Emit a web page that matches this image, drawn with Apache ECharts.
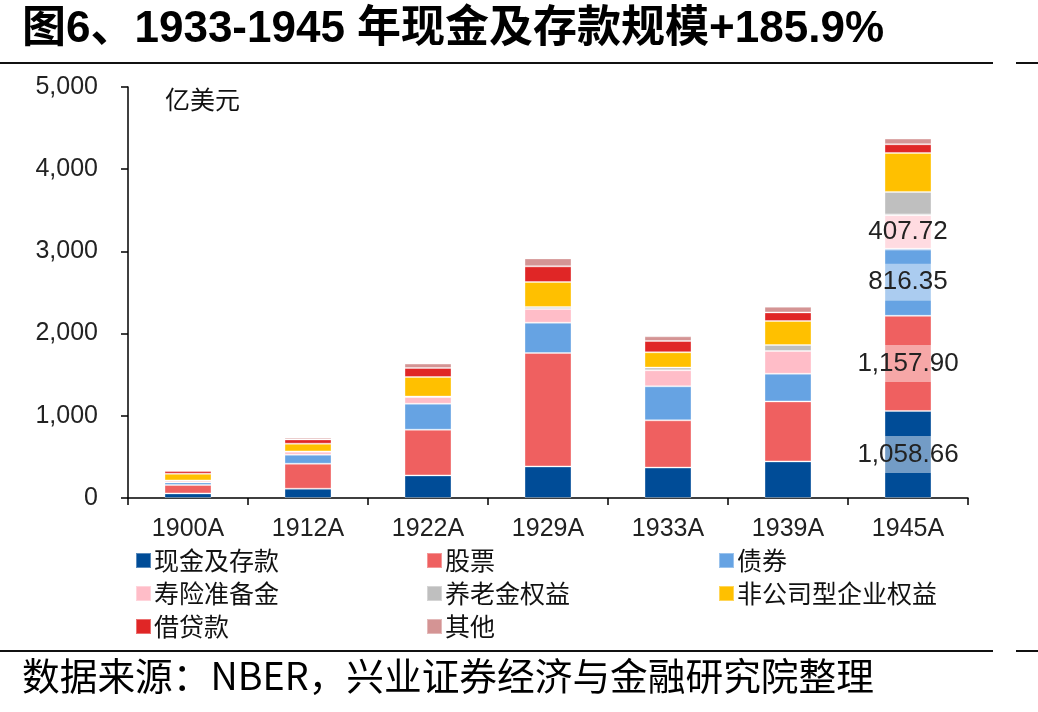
<!DOCTYPE html>
<html>
<head>
<meta charset="utf-8">
<script src="https://cdn.jsdelivr.net/npm/echarts@6/dist/echarts.min.js"></script>
<style>
  html, body { margin: 0; padding: 0; background: #fff; }
  #chart { width: 1038px; height: 712px; }
</style>
</head>
<body>
<div id="chart"></div>
<script>
/* ===== 数据 ===== */
const years = ['1900A', '1912A', '1922A', '1929A', '1933A', '1939A', '1945A'];

const cash    = [56, 113, 275, 384, 370, 445, 1058.66];   // 现金及存款
const stocks  = [102, 304, 556, 1380, 575, 730, 1157.90]; // 股票
const bonds   = [32, 110, 316, 369, 414, 337, 816.35];    // 债券
const life    = [20, 36, 81, 167, 195, 276, 407.72];      // 寿险准备金
const pension = [4, 4, 6, 24, 33, 73, 283];               // 养老金权益
const noncorp = [81, 94, 238, 304, 186, 292, 474];        // 非公司型企业权益
const loans   = [32, 52, 109, 190, 137, 105, 106];        // 借贷款
const others  = [12, 21, 54, 97, 57, 69, 69];             // 其他

const yTicks = [0, 1000, 2000, 3000, 4000, 5000];

const FONT = '"Liberation Sans", "Noto Sans CJK SC", sans-serif';
const CJK = '"Noto Sans CJK SC", "Liberation Sans", sans-serif';

const fmt2 = v => v.toLocaleString('en-US', { minimumFractionDigits: 2, maximumFractionDigits: 2 });

/* 1945 年的数据标签（带半透明白底） */
const withLabel = arr => arr.map((v, i) => i === arr.length - 1 ? {
  value: v,
  label: {
    show: true,
    position: 'inside',
    formatter: p => fmt2(p.value),
    color: '#222',
    fontFamily: FONT,
    fontSize: 26,
    backgroundColor: 'rgba(255,255,255,0.45)',
    padding: [6, 4, 5, 4]
  }
} : v);

const seriesDefs = [
  { name: '现金及存款',       data: withLabel(cash),  color: '#004C97' },
  { name: '股票',             data: withLabel(stocks), color: '#EF6060' },
  { name: '债券',             data: withLabel(bonds),  color: '#66A3E3' },
  { name: '寿险准备金',       data: withLabel(life),   color: '#FFBDC8' },
  { name: '养老金权益',       data: pension,           color: '#BFBFBF' },
  { name: '非公司型企业权益', data: noncorp,           color: '#FFC000' },
  { name: '借贷款',           data: loans,             color: '#E02626' },
  { name: '其他',             data: others,            color: '#D49494' }
];

const chart = echarts.init(document.getElementById('chart'));

const legendBase = {
  orient: 'vertical',
  top: 543,
  itemWidth: 15,
  itemHeight: 15,
  itemGap: 8,
  icon: 'rect',
  textStyle: { fontFamily: CJK, fontSize: 25, color: '#111', padding: [0, 0, 0, -2] }
};

chart.setOption({
  backgroundColor: '#fff',
  animation: false,
  legend: [
    Object.assign({}, legendBase, { left: 130, data: ['现金及存款', '寿险准备金', '借贷款'] }),
    Object.assign({}, legendBase, { left: 421, data: ['股票', '养老金权益', '其他'] }),
    Object.assign({}, legendBase, { left: 713, data: ['债券', '非公司型企业权益'] })
  ],
  grid: { left: 128, right: 70, top: 87, bottom: 214 },
  xAxis: {
    type: 'category',
    data: years,
    axisLine: { lineStyle: { color: '#000', width: 1.5 } },
    axisTick: { show: true, length: 7, lineStyle: { color: '#000', width: 1.5 } },
    axisLabel: { fontFamily: FONT, fontSize: 25, color: '#222', margin: 19 }
  },
  yAxis: {
    type: 'value',
    min: 0,
    max: 5000,
    interval: 1000,
    splitLine: { show: false },
    axisLine: { show: true, lineStyle: { color: '#000', width: 1.5 } },
    axisTick: { show: true, length: 7, lineStyle: { color: '#000', width: 1.5 } },
    axisLabel: {
      fontFamily: FONT, fontSize: 25, color: '#222', margin: 30,
      formatter: v => yTicks.includes(v) ? v.toLocaleString('en-US') : ''
    }
  },
  series: seriesDefs.map(s => ({
    name: s.name,
    type: 'bar',
    stack: 'total',
    barWidth: 47,
    data: s.data,
    itemStyle: { color: s.color, borderColor: 'rgba(255,255,255,0.35)', borderWidth: 1 }
  })),
  graphic: [
    {
      type: 'text', left: 22, top: 8,
      style: { text: '图6、1933-1945 年现金及存款规模+185.9%', font: 'bold 44px ' + FONT, fill: '#000' }
    },
    { type: 'text', left: 165, top: 87, style: { text: '亿美元', font: '25px ' + CJK, fill: '#111' } },
    { type: 'rect', shape: { x: 0, y: 62, width: 993, height: 2 }, style: { fill: '#111' } },
    { type: 'rect', shape: { x: 1016, y: 62, width: 22, height: 2 }, style: { fill: '#111' } },
    { type: 'rect', shape: { x: 0, y: 650, width: 993, height: 2 }, style: { fill: '#111' } },
    { type: 'rect', shape: { x: 1016, y: 650, width: 22, height: 2 }, style: { fill: '#111' } },
    {
      type: 'text', left: 22, top: 657,
      style: { text: '数据来源：NBER，兴业证券经济与金融研究院整理', font: '37.7px ' + CJK, fill: '#000' }
    }
  ]
});
</script>
</body>
</html>
